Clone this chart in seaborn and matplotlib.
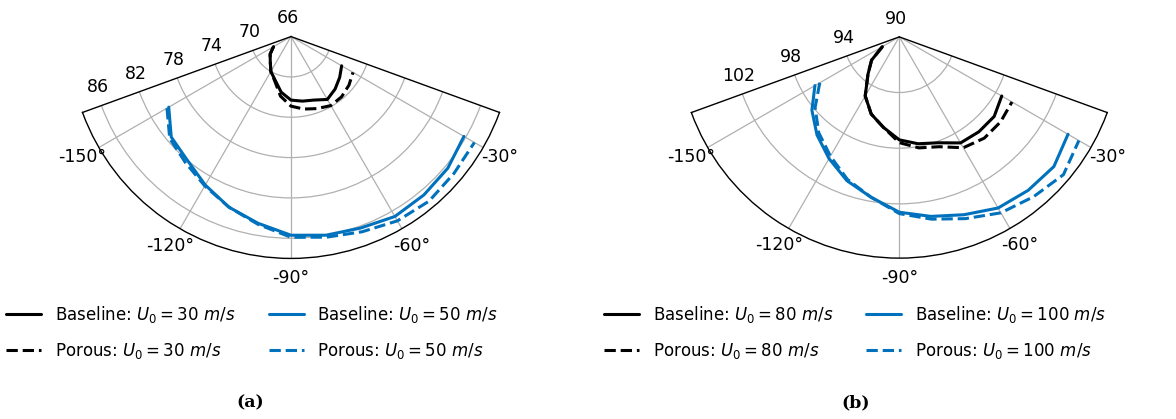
import numpy as np
import pandas as pd
import matplotlib
matplotlib.use("Agg")
import matplotlib.pyplot as plt
import seaborn as sns

sns.set_style("white")
plt.rcParams["font.family"] = ["DejaVu Sans"]
plt.rcParams["mathtext.fontset"] = "dejavusans"
plt.rcParams["text.color"] = "black"
plt.rcParams["xtick.color"] = "black"
plt.rcParams["ytick.color"] = "black"

# angles of the directivity measurements (deg)
angles = [-150, -140, -130, -120, -110, -100, -90, -80, -70, -60, -50, -40, -30]

# (a) low speeds
base_30 = [68.0, 68.7, 69.2, 70.0, 70.6, 71.6, 72.3, 72.5, 72.7, 73.2, 72.8, 72.3, 71.8]
por_30 = [68.0, 68.7, 69.2, 70.0, 70.7, 72.0, 72.9, 73.3, 73.6, 73.9, 73.8, 73.5, 73.1]
base_50 = [80.0, 81.5, 82.0, 83.0, 84.0, 84.8, 85.7, 86.0, 86.2, 86.6, 86.5, 86.3, 85.8]
por_50 = [80.2, 81.7, 82.3, 83.1, 84.0, 84.9, 85.9, 86.2, 86.6, 87.1, 87.3, 87.1, 87.0]

# (b) high speeds
base_80 = [91.4, 92.6, 93.5, 94.9, 95.9, 96.6, 97.4, 97.8, 98.1, 98.8, 98.9, 98.9, 98.5]
por_80 = [91.4, 92.6, 93.5, 94.9, 95.9, 96.6, 97.6, 98.1, 98.4, 99.2, 99.5, 99.5, 99.35]
base_100 = [97.0, 98.2, 99.2, 100.1, 101.0, 101.7, 102.6, 103.1, 103.6, 104.2, 104.4, 104.5, 104.0]
por_100 = [96.6, 97.9, 99.0, 99.9, 100.9, 101.7, 102.7, 103.3, 103.9, 104.6, 105.0, 105.4, 104.9]

theta_ticks = [-150, -120, -90, -60, -30]
theta_labels = ["-150°", "-120°", "-90°", "-60°", "-30°"]
rticks_a = [66, 70, 74, 78, 82, 86]
rticks_b = [90, 94, 98, 102]

blue = "#0072BD"

fig = plt.figure(figsize=(11.76, 4.19), dpi=100)
W, H = 1176, 419


def polar_box(cx, cy, w, h, k=1.904):
    # the wedge only fills part of the axes box, so grow the box around its centre
    w2, h2 = w * k, h * k
    return [(cx - w2 / 2) / W, 1 - (cy + h2 / 2) / H, w2 / W, h2 / H]


ax_a = fig.add_axes(polar_box(291, 147.5, 412, 219), projection="polar")
ax_b = fig.add_axes(polar_box(899.3, 147.5, 410.5, 218.4), projection="polar")


def draw_panel(ax, series, rlim, rticks):
    th = np.deg2rad(angles)
    for vals, color, ls, label in series:
        d = pd.DataFrame({"theta": th, "r": vals})
        sns.lineplot(data=d, x="theta", y="r", ax=ax, color=color,
                     linestyle=ls, linewidth=2.2, label=label, sort=False)
    ax.set_xlabel("")
    ax.set_ylabel("")
    ax.set_thetamin(-160)
    ax.set_thetamax(-20)
    ax.set_rlim(*rlim)
    ax.set_rgrids(rticks, labels=[str(t) for t in rticks])
    ax.set_thetagrids(theta_ticks, labels=theta_labels)
    ax.tick_params(axis="both", labelsize=12.5, colors="black")
    ax.grid(True, color="#b0b0b0", linewidth=0.9)
    for sp in ax.spines.values():
        sp.set_color("black")
        sp.set_linewidth(1.0)
    ax.legend().remove()


series_a = [
    (base_30, "black", "-", r"Baseline: $U_0 = 30\ m/s$"),
    (por_30, "black", "--", r"Porous: $U_0 = 30\ m/s$"),
    (base_50, blue, "-", r"Baseline: $U_0 = 50\ m/s$"),
    (por_50, blue, "--", r"Porous: $U_0 = 50\ m/s$"),
]
series_b = [
    (base_80, "black", "-", r"Baseline: $U_0 = 80\ m/s$"),
    (por_80, "black", "--", r"Porous: $U_0 = 80\ m/s$"),
    (base_100, blue, "-", r"Baseline: $U_0 = 100\ m/s$"),
    (por_100, blue, "--", r"Porous: $U_0 = 100\ m/s$"),
]

draw_panel(ax_a, series_a, (66, 88), rticks_a)
draw_panel(ax_b, series_b, (90, 105.9), rticks_b)

for ax, xc in [(ax_a, 252 / W), (ax_b, 855 / W)]:
    h, l = ax.get_legend_handles_labels()
    fig.legend(h, l, ncol=2, loc="upper center", bbox_to_anchor=(xc, 1 - 289 / H),
               frameon=False, fontsize=12, labelspacing=0.95, columnspacing=2.0,
               handlelength=2.1)

fig.text(250 / W, 1 - 403 / H, "(a)", ha="center", va="center",
         family="DejaVu Serif", weight="bold", fontsize=12.5)
fig.text(856 / W, 1 - 403 / H, "(b)", ha="center", va="center",
         family="DejaVu Serif", weight="bold", fontsize=12.5)

fig.savefig("out.png", dpi=100)
